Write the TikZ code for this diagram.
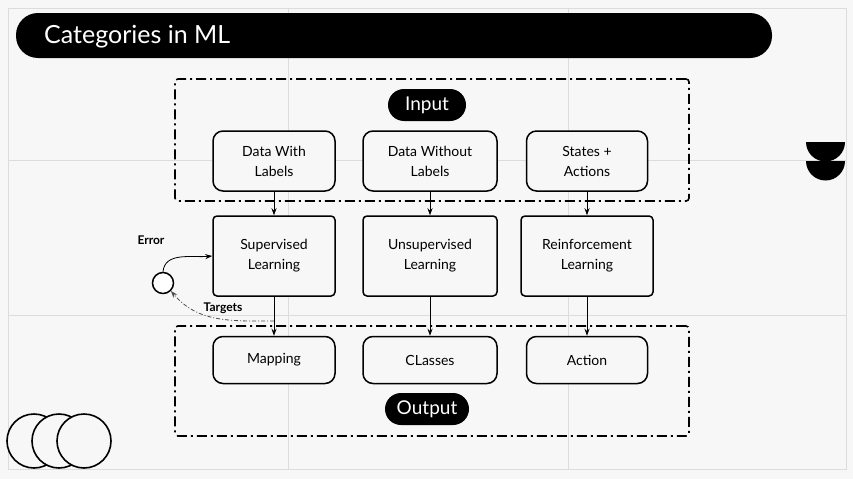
\documentclass[tikz,border=0pt]{standalone}
\usepackage{fontspec}
\setmainfont{Lato}
\usetikzlibrary{arrows.meta,positioning}
\definecolor{bgcol}{HTML}{F7F7F7}
\definecolor{gridcol}{HTML}{DCDCDC}

\begin{document}
\begin{tikzpicture}[x=1pt,y=-1pt,
    every node/.style={inner sep=2pt},
    gridline/.style={draw=gridcol,line width=0.8pt},
    group/.style={draw,line width=1.6pt,rounded corners=3pt,dash pattern=on 10pt off 4pt on 2pt off 4pt},
    pill/.style={fill=black,text=white,rounded corners=16pt,minimum height=32pt,font=\fontsize{19}{19}\selectfont},
    databox/.style={draw,line width=1.5pt,rounded corners=10pt,fill=bgcol,align=center,minimum height=60pt,font=\fontsize{14}{20}\selectfont},
    learnbox/.style={databox,rounded corners=4pt,minimum height=80pt},
    outbox/.style={databox,minimum height=47pt},
    flow/.style={-{Stealth[length=7pt,width=5pt]},line width=0.8pt},
    tag/.style={font=\bfseries\fontsize{12}{12}\selectfont}]
                \useasboundingbox[fill=bgcol] (0,0) rectangle (853,479);
                \draw[gridline] (8,8) rectangle (846,469);
                \foreach \x in {288,568} \draw[gridline] (\x,8) -- (\x,469);
                \foreach \y in {160,315} \draw[gridline] (8,\y) -- (846,\y);

                \fill[rounded corners=22pt] (16,13) rectangle (772,58);
                \node[text=white,anchor=west,font=\fontsize{25}{25}\selectfont] (title) at (42,37) {Categories in ML};

                \node[group,minimum width=514pt,minimum height=122pt] (ingroup) at (432,140) {};
                \node[group,minimum width=514pt,minimum height=110pt] (outgroup) at (432,381) {};
                \node[pill,minimum width=78pt] (input) at (427,105) {Input};
                \node[pill,minimum width=84pt] (output) at (427,409) {Output};

                \node[databox,minimum width=122pt] (dwl) at (274,161) {Data With\\Labels};
                \node[databox,minimum width=134pt] (dwol) at (430,161) {Data Without\\Labels};
                \node[databox,minimum width=121pt] (sa) at (587,161) {States +\\Actions};

                \node[learnbox,minimum width=122pt] (sup) at (274,256) {Supervised\\Learning};
                \node[learnbox,minimum width=134pt] (unsup) at (430,256) {Unsupervised\\Learning};
                \node[learnbox,minimum width=132pt] (rl) at (587,256) {Reinforcement\\Learning};

                \node[outbox,minimum width=122pt] (map) at (274,360) {Mapping};
                \node[outbox,minimum width=134pt] (cls) at (430,360) {CLasses};
                \node[outbox,minimum width=121pt] (act) at (587,360) {Action};

                \foreach \a/\b in {dwl/sup,dwol/unsup,sa/rl,sup/map,unsup/cls,rl/act}
                    \draw[flow] (\a) -- (\b);

                \node[draw,circle,line width=1.5pt,fill=white,minimum size=21pt,inner sep=0pt] (cmp) at (163,283) {};
                \draw[flow] (cmp.north) to[out=85,in=185] (sup.west);
                \coordinate (tgt) at (274,321);
                \draw[flow,draw=black!70,dash pattern=on 4pt off 2pt on 1pt off 2pt] (tgt) to[out=180,in=-50] (cmp.south east);
                \node[tag] (err) at (151,240) {Error};
                \node[tag] (targ) at (223,308) {Targets};

                \foreach \cx [count=\i] in {34,59,84}
                    \node[draw,circle,line width=1.6pt,fill=bgcol,minimum size=54pt,inner sep=0pt] (ring\i) at (\cx,441) {};

                \fill (806,142) -- (845,142) arc[start angle=0,end angle=180,radius=19.5] -- cycle;
                \fill (806,161) -- (845,161) arc[start angle=0,end angle=180,radius=19.5] -- cycle;
            \end{tikzpicture}
\end{document}
